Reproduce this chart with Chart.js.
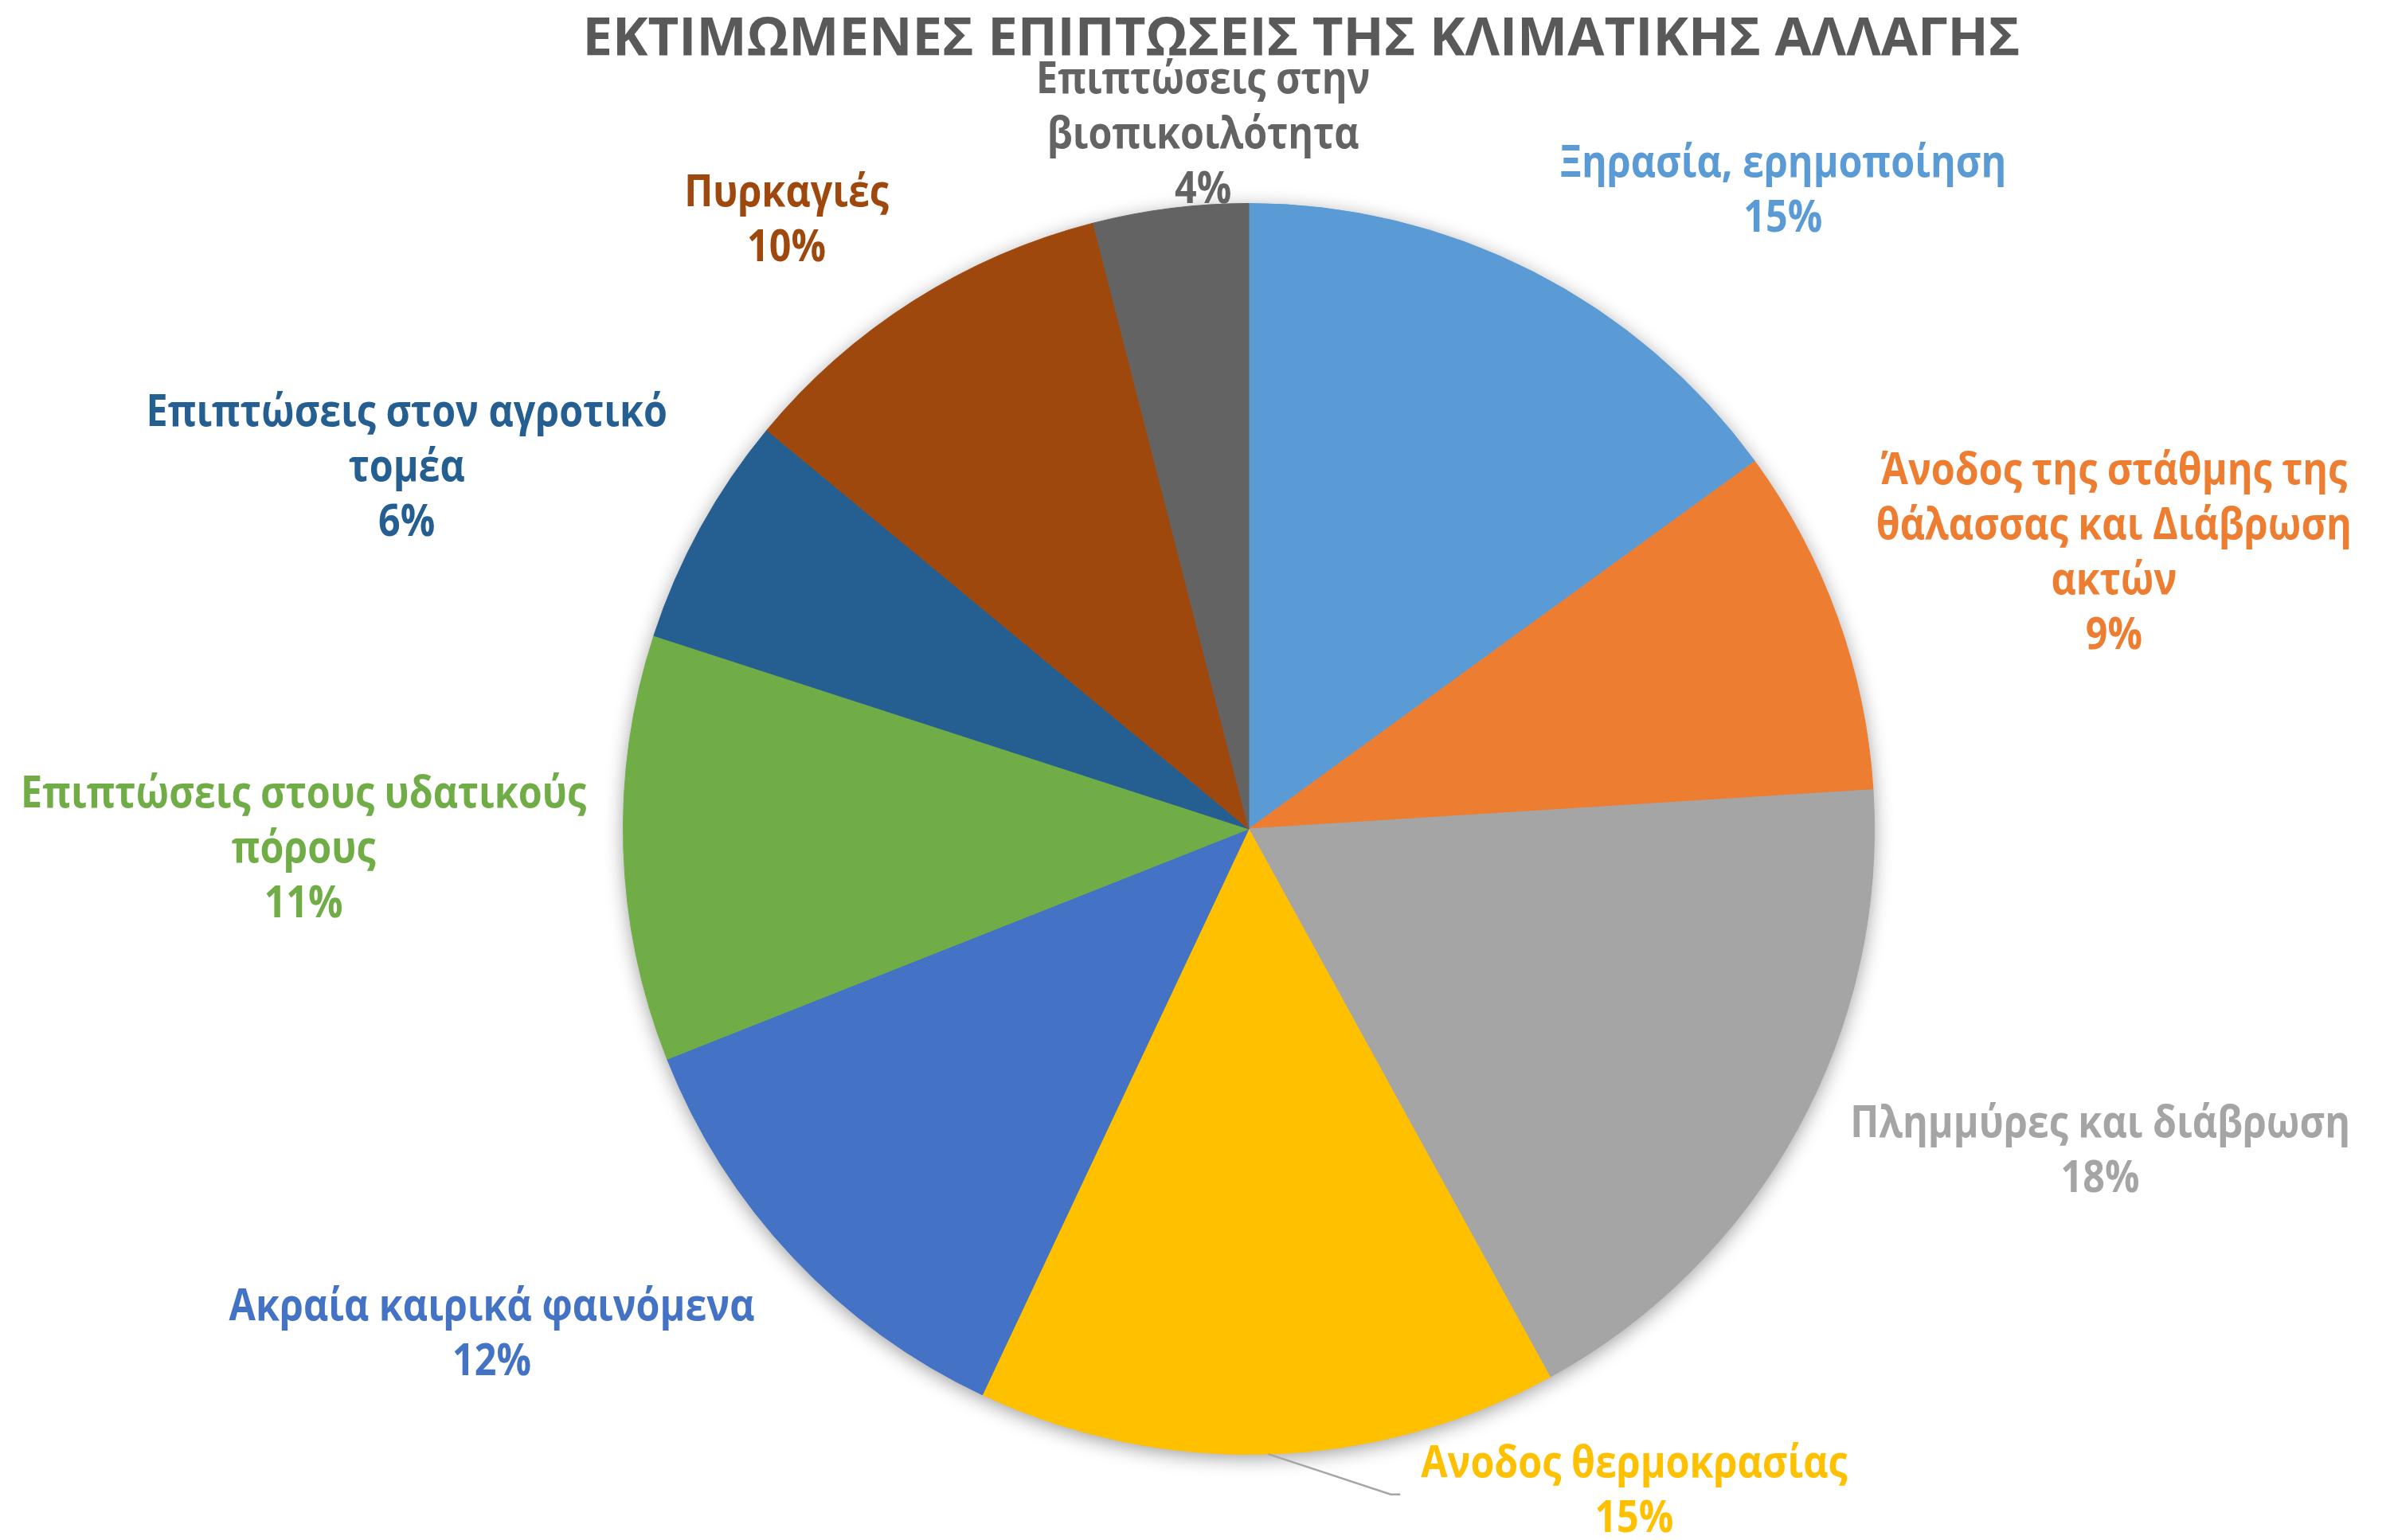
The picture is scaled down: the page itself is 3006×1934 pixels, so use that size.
<!DOCTYPE html>
<html>
<head>
<meta charset="utf-8">
<script src="https://cdn.jsdelivr.net/npm/chart.js@4"></script>
<style>
  body { margin: 0; background: #ffffff; }
  #wrap { width: 3006px; height: 1934px; }
</style>
</head>
<body>
<div id="wrap"><canvas id="pieChart"></canvas></div>
<script>
var titleText = "ΕΚΤΙΜΩΜΕΝΕΣ ΕΠΙΠΤΩΣΕΙΣ ΤΗΣ ΚΛΙΜΑΤΙΚΗΣ ΑΛΛΑΓΗΣ";

var categories = [
  "Ξηρασία, ερημοποίηση",
  "Άνοδος της στάθμης της θάλασσας και Διάβρωση ακτών",
  "Πλημμύρες και διάβρωση",
  "Ανοδος θερμοκρασίας",
  "Ακραία καιρικά φαινόμενα",
  "Επιπτώσεις στους υδατικούς πόρους",
  "Επιπτώσεις στον αγροτικό τομέα",
  "Πυρκαγιές",
  "Επιπτώσεις στην βιοπικοιλότητα"
];

var values = [15, 9, 18, 15, 12, 11, 6, 10, 4];

var sliceColors = [
  "#5B9BD5", "#ED7D31", "#A5A5A5", "#FFC000", "#4472C4",
  "#70AD47", "#255E91", "#9E480E", "#636363"
];

// category names broken into the lines shown next to each slice
var labelLines = [
  ["Ξηρασία, ερημοποίηση"],
  ["Άνοδος της στάθμης της", "θάλασσας και Διάβρωση", "ακτών"],
  ["Πλημμύρες και διάβρωση"],
  ["Ανοδος θερμοκρασίας"],
  ["Ακραία καιρικά φαινόμενα"],
  ["Επιπτώσεις στους υδατικούς", "πόρους"],
  ["Επιπτώσεις στον αγροτικό", "τομέα"],
  ["Πυρκαγιές"],
  ["Επιπτώσεις στην", "βιοπικοιλότητα"]
];

// where each label block sits, in pie radii from the centre
var labelSpots = [
  [0.854, -1.019], [1.383, -0.439], [1.361, 0.517],
  [0.616, 1.060], [-1.210, 0.809], [-1.511, 0.034],
  [-1.346, -0.576], [-0.739, -0.971], [-0.073, -1.109]
];
var leaderSlice = 3;

var labelFont = "bold 55px 'Open Sans'";
var lineGap = 69;
var squeeze = 0.88;

// soft shadow under the whole pie
var pieShadow = {
  id: "pieShadow",
  beforeDatasetsDraw: function(chart) {
    var arc = chart.getDatasetMeta(0).data[0];
    var ctx = chart.ctx;
    ctx.save();
    ctx.shadowColor = "rgba(0,0,0,0.4)";
    ctx.shadowBlur = 24;
    ctx.shadowOffsetY = 5;
    ctx.fillStyle = "#ffffff";
    ctx.beginPath();
    ctx.arc(arc.x, arc.y, arc.outerRadius - 1, 0, Math.PI * 2);
    ctx.fill();
    ctx.restore();
  }
};

var sliceLabels = {
  id: "sliceLabels",
  afterDatasetsDraw: function(chart) {
    var ctx = chart.ctx;
    var arcs = chart.getDatasetMeta(0).data;
    var total = values.reduce(function(a, b) { return a + b; }, 0);

    ctx.save();
    ctx.font = "bold 67px 'Open Sans'";
    ctx.fillStyle = "#595959";
    ctx.textAlign = "center";
    ctx.textBaseline = "alphabetic";
    ctx.fillText(titleText, arcs[0].x + 66, 69);

    ctx.font = labelFont;
    ctx.textBaseline = "middle";
    arcs.forEach(function(arc, i) {
      var r = arc.outerRadius;
      var cx = arc.x + labelSpots[i][0] * r;
      var cy = arc.y + labelSpots[i][1] * r;
      var lines = labelLines[i].concat([Math.round(values[i] / total * 100) + "%"]);
      var top = cy - (lines.length - 1) * lineGap / 2;
      ctx.fillStyle = sliceColors[i];
      lines.forEach(function(t, k) {
        ctx.save();
        ctx.translate(cx, top + k * lineGap);
        ctx.scale(squeeze, 1);
        ctx.fillText(t, 0, 0);
        ctx.restore();
      });

      if (i === leaderSlice) {
        var mid = (arc.startAngle + arc.endAngle) / 2;
        var left = cx - ctx.measureText(lines[0]).width * squeeze / 2;
        var by = cy + 3;
        ctx.strokeStyle = "#A6A6A6";
        ctx.lineWidth = 2.5;
        ctx.beginPath();
        ctx.moveTo(arc.x + Math.cos(mid) * r, arc.y + Math.sin(mid) * r);
        ctx.lineTo(left - 38, by);
        ctx.lineTo(left - 26, by);
        ctx.stroke();
      }
    });
    ctx.restore();
  }
};

new Chart("pieChart", {
  type: "pie",
  data: {
    labels: categories,
    datasets: [{
      data: values,
      backgroundColor: sliceColors,
      borderColor: sliceColors,
      borderWidth: 1,
      hoverOffset: 0
    }]
  },
  options: {
    responsive: true,
    maintainAspectRatio: false,
    animation: false,
    events: [],
    layout: { padding: { top: 255, bottom: 107, left: 770, right: 640 } },
    plugins: {
      legend: { display: false },
      tooltip: { enabled: false },
      title: { display: false }
    }
  },
  plugins: [pieShadow, sliceLabels]
});
</script>
</body>
</html>
